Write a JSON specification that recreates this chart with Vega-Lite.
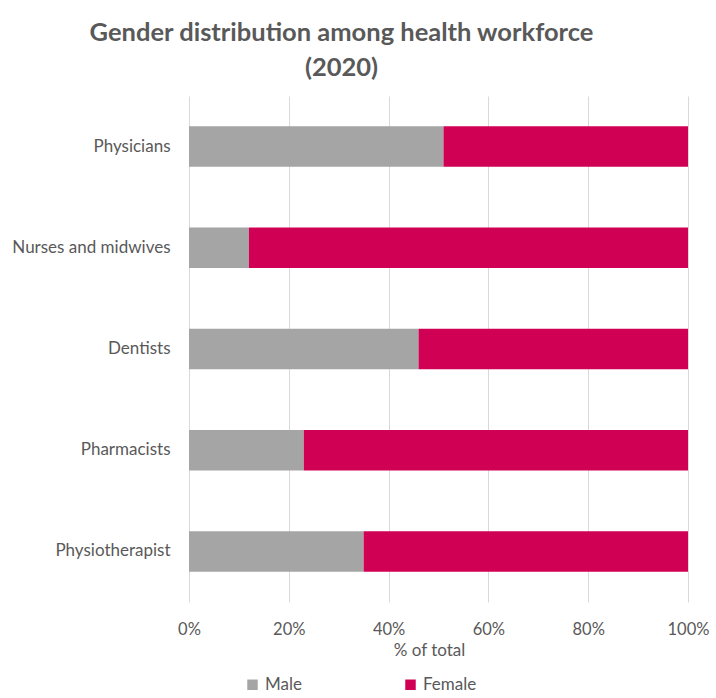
{
  "$schema": "https://vega.github.io/schema/vega-lite/v6.json",
  "width": 499,
  "height": 506,
  "autosize": "none",
  "padding": {"left": 189, "top": 96, "right": 28, "bottom": 96},
  "background": "white",
  "title": {
    "text": ["Gender distribution among health workforce", "(2020)"],
    "font": "Lato",
    "fontSize": 25.5,
    "fontWeight": "bold",
    "color": "#595959",
    "anchor": "middle",
    "dx": -97,
    "offset": 15,
    "lineHeight": 35
  },
  "data": {
    "values": [
      {"occupation": "Physicians", "sex": "Male", "share": 0.51},
      {"occupation": "Physicians", "sex": "Female", "share": 0.49},
      {"occupation": "Nurses and midwives", "sex": "Male", "share": 0.12},
      {"occupation": "Nurses and midwives", "sex": "Female", "share": 0.88},
      {"occupation": "Dentists", "sex": "Male", "share": 0.46},
      {"occupation": "Dentists", "sex": "Female", "share": 0.54},
      {"occupation": "Pharmacists", "sex": "Male", "share": 0.23},
      {"occupation": "Pharmacists", "sex": "Female", "share": 0.77},
      {"occupation": "Physiotherapist", "sex": "Male", "share": 0.35},
      {"occupation": "Physiotherapist", "sex": "Female", "share": 0.65}
    ]
  },
  "mark": {"type": "bar"},
  "encoding": {
    "y": {
      "field": "occupation",
      "type": "nominal",
      "sort": ["Physicians", "Nurses and midwives", "Dentists", "Pharmacists", "Physiotherapist"],
      "scale": {"paddingInner": 0.6, "paddingOuter": 0.3},
      "axis": {
        "title": null,
        "domain": false,
        "ticks": false,
        "grid": false,
        "labelPadding": 19,
        "labelFont": "Lato",
        "labelFontSize": 17,
        "labelColor": "#595959",
        "labelLimit": 300
      }
    },
    "x": {
      "field": "share",
      "type": "quantitative",
      "stack": "zero",
      "scale": {"domain": [0, 1]},
      "axis": {
        "values": [0, 0.2, 0.4, 0.6, 0.8, 1],
        "format": ".0%",
        "grid": true,
        "gridColor": "#D9D9D9",
        "gridWidth": 1,
        "domain": false,
        "ticks": false,
        "labelFlush": false,
        "labelPadding": 19,
        "labelFont": "Lato",
        "labelFontSize": 16.5,
        "labelColor": "#595959",
        "title": "% of total",
        "titleFont": "Lato",
        "titleFontSize": 17,
        "titleFontWeight": "normal",
        "titleColor": "#595959",
        "titlePadding": 5,
        "titleX": 240
      }
    },
    "color": {
      "field": "sex",
      "type": "nominal",
      "sort": ["Male", "Female"],
      "scale": {"domain": ["Male", "Female"], "range": ["#A5A5A5", "#D00055"]},
      "legend": {
        "title": null,
        "orient": "none",
        "direction": "horizontal",
        "legendX": 55,
        "legendY": 580,
        "symbolType": "square",
        "symbolSize": 110,
        "symbolStrokeWidth": 0,
        "labelFont": "Lato",
        "labelFontSize": 17,
        "labelColor": "#595959",
        "labelOffset": 4,
        "columnPadding": 100
      }
    },
    "order": {"field": "sex", "sort": "descending"}
  },
  "config": {"view": {"stroke": null}}
}
